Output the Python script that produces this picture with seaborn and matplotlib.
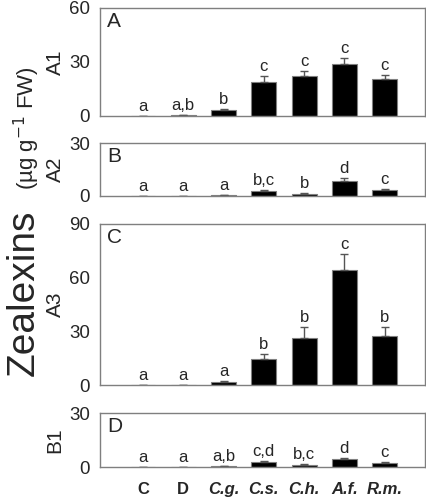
import matplotlib
matplotlib.use("Agg")
import matplotlib.pyplot as plt
import seaborn as sns
import numpy as np

sns.set_style("white")
plt.rcParams["font.family"] = ["Liberation Sans", "DejaVu Sans"]

# Dados
categorias = ["C", "D", "C.g.", "C.s.", "C.h.", "A.f.", "R.m."]

a1_media = [0.0, 0.5, 3.6, 18.7, 22.0, 29.1, 20.4]
a1_erro = [0.0, 0.2, 0.4, 3.7, 3.2, 3.0, 2.2]
a1_letras = ["a", "a,b", "b", "c", "c", "c", "c"]

a2_media = [0.0, 0.0, 0.3, 2.6, 1.3, 8.5, 3.4]
a2_erro = [0.0, 0.0, 0.1, 0.6, 0.2, 1.5, 0.7]
a2_letras = ["a", "a", "a", "b,c", "b", "d", "c"]

a3_media = [0.0, 0.0, 1.9, 14.7, 26.1, 64.1, 27.4]
a3_erro = [0.0, 0.0, 0.5, 2.6, 6.3, 9.1, 5.0]
a3_letras = ["a", "a", "a", "b", "b", "c", "b"]

b1_media = [0.0, 0.0, 0.4, 2.6, 1.3, 4.3, 2.4]
b1_erro = [0.0, 0.0, 0.1, 0.5, 0.2, 0.5, 0.3]
b1_letras = ["a", "a", "a,b", "c,d", "b,c", "d", "c"]

paineis = [
    ("A", "A1", a1_media, a1_erro, a1_letras, [0, 30, 60]),
    ("B", "A2", a2_media, a2_erro, a2_letras, [0, 30]),
    ("C", "A3", a3_media, a3_erro, a3_letras, [0, 30, 60, 90]),
    ("D", "B1", b1_media, b1_erro, b1_letras, [0, 30]),
]

# posições (fração da figura): bottom, height
posicoes = [(0.768, 0.216), (0.608, 0.106), (0.230, 0.322), (0.066, 0.108)]

cinza = "#7f7f7f"
fig = plt.figure(figsize=(4.27, 5), dpi=100)

for i, (letra, nome, media, erro, letras, yticks) in enumerate(paineis):
    bottom, height = posicoes[i]
    ax = fig.add_axes([0.234, bottom, 0.761, height])
    sns.barplot(x=categorias, y=media, color="black", width=0.62,
                edgecolor=cinza, linewidth=0.8, errorbar=None,
                saturation=1, ax=ax)
    xs = np.arange(len(categorias))
    ax.errorbar(xs, media, yerr=[np.zeros(len(erro)), erro], fmt="none",
                ecolor="#555555", elinewidth=1, capsize=3, capthick=1)
    for x, m, e, t in zip(xs, media, erro, letras):
        ax.annotate(t, (x, m + e), xytext=(0, 1.5), textcoords="offset points",
                    ha="center", va="bottom", fontsize=12)
    ax.set_xlim(-1.07, 7.0)
    ax.set_ylim(yticks[0], yticks[-1])
    ax.set_yticks(yticks)
    ax.tick_params(axis="y", length=0, pad=7, labelsize=13.5)
    ax.tick_params(axis="x", length=3, color=cinza, direction="out", width=0.8)
    for sp in ax.spines.values():
        sp.set_color(cinza)
        sp.set_linewidth(1)
        sp.set_visible(True)
    ax.annotate(letra, (0, 1), xycoords="axes fraction", xytext=(5, -3),
                textcoords="offset points", ha="left", va="top", fontsize=15)
    fig.text(55 / 427, bottom + height / 2, nome, rotation=90,
             ha="center", va="center", fontsize=15)
    if i < 3:
        ax.set_xticklabels([])
    else:
        ax.set_xticklabels(categorias, fontsize=12, fontweight="bold")
        for j, lab in enumerate(ax.get_xticklabels()):
            if j >= 2:
                lab.set_fontstyle("italic")
        ax.tick_params(axis="x", pad=8)

# rótulo geral do eixo y
fig.text(24 / 427, 1 - 376 / 500, "Zealexins", rotation=90,
         ha="center", va="bottom", fontsize=28)
fig.text(27 / 427, 1 - 66 / 500, "(\u00b5g g$^{-1}$ FW)", rotation=90,
         ha="center", va="top", fontsize=16)

plt.savefig("out.png", dpi=100)
plt.close()
